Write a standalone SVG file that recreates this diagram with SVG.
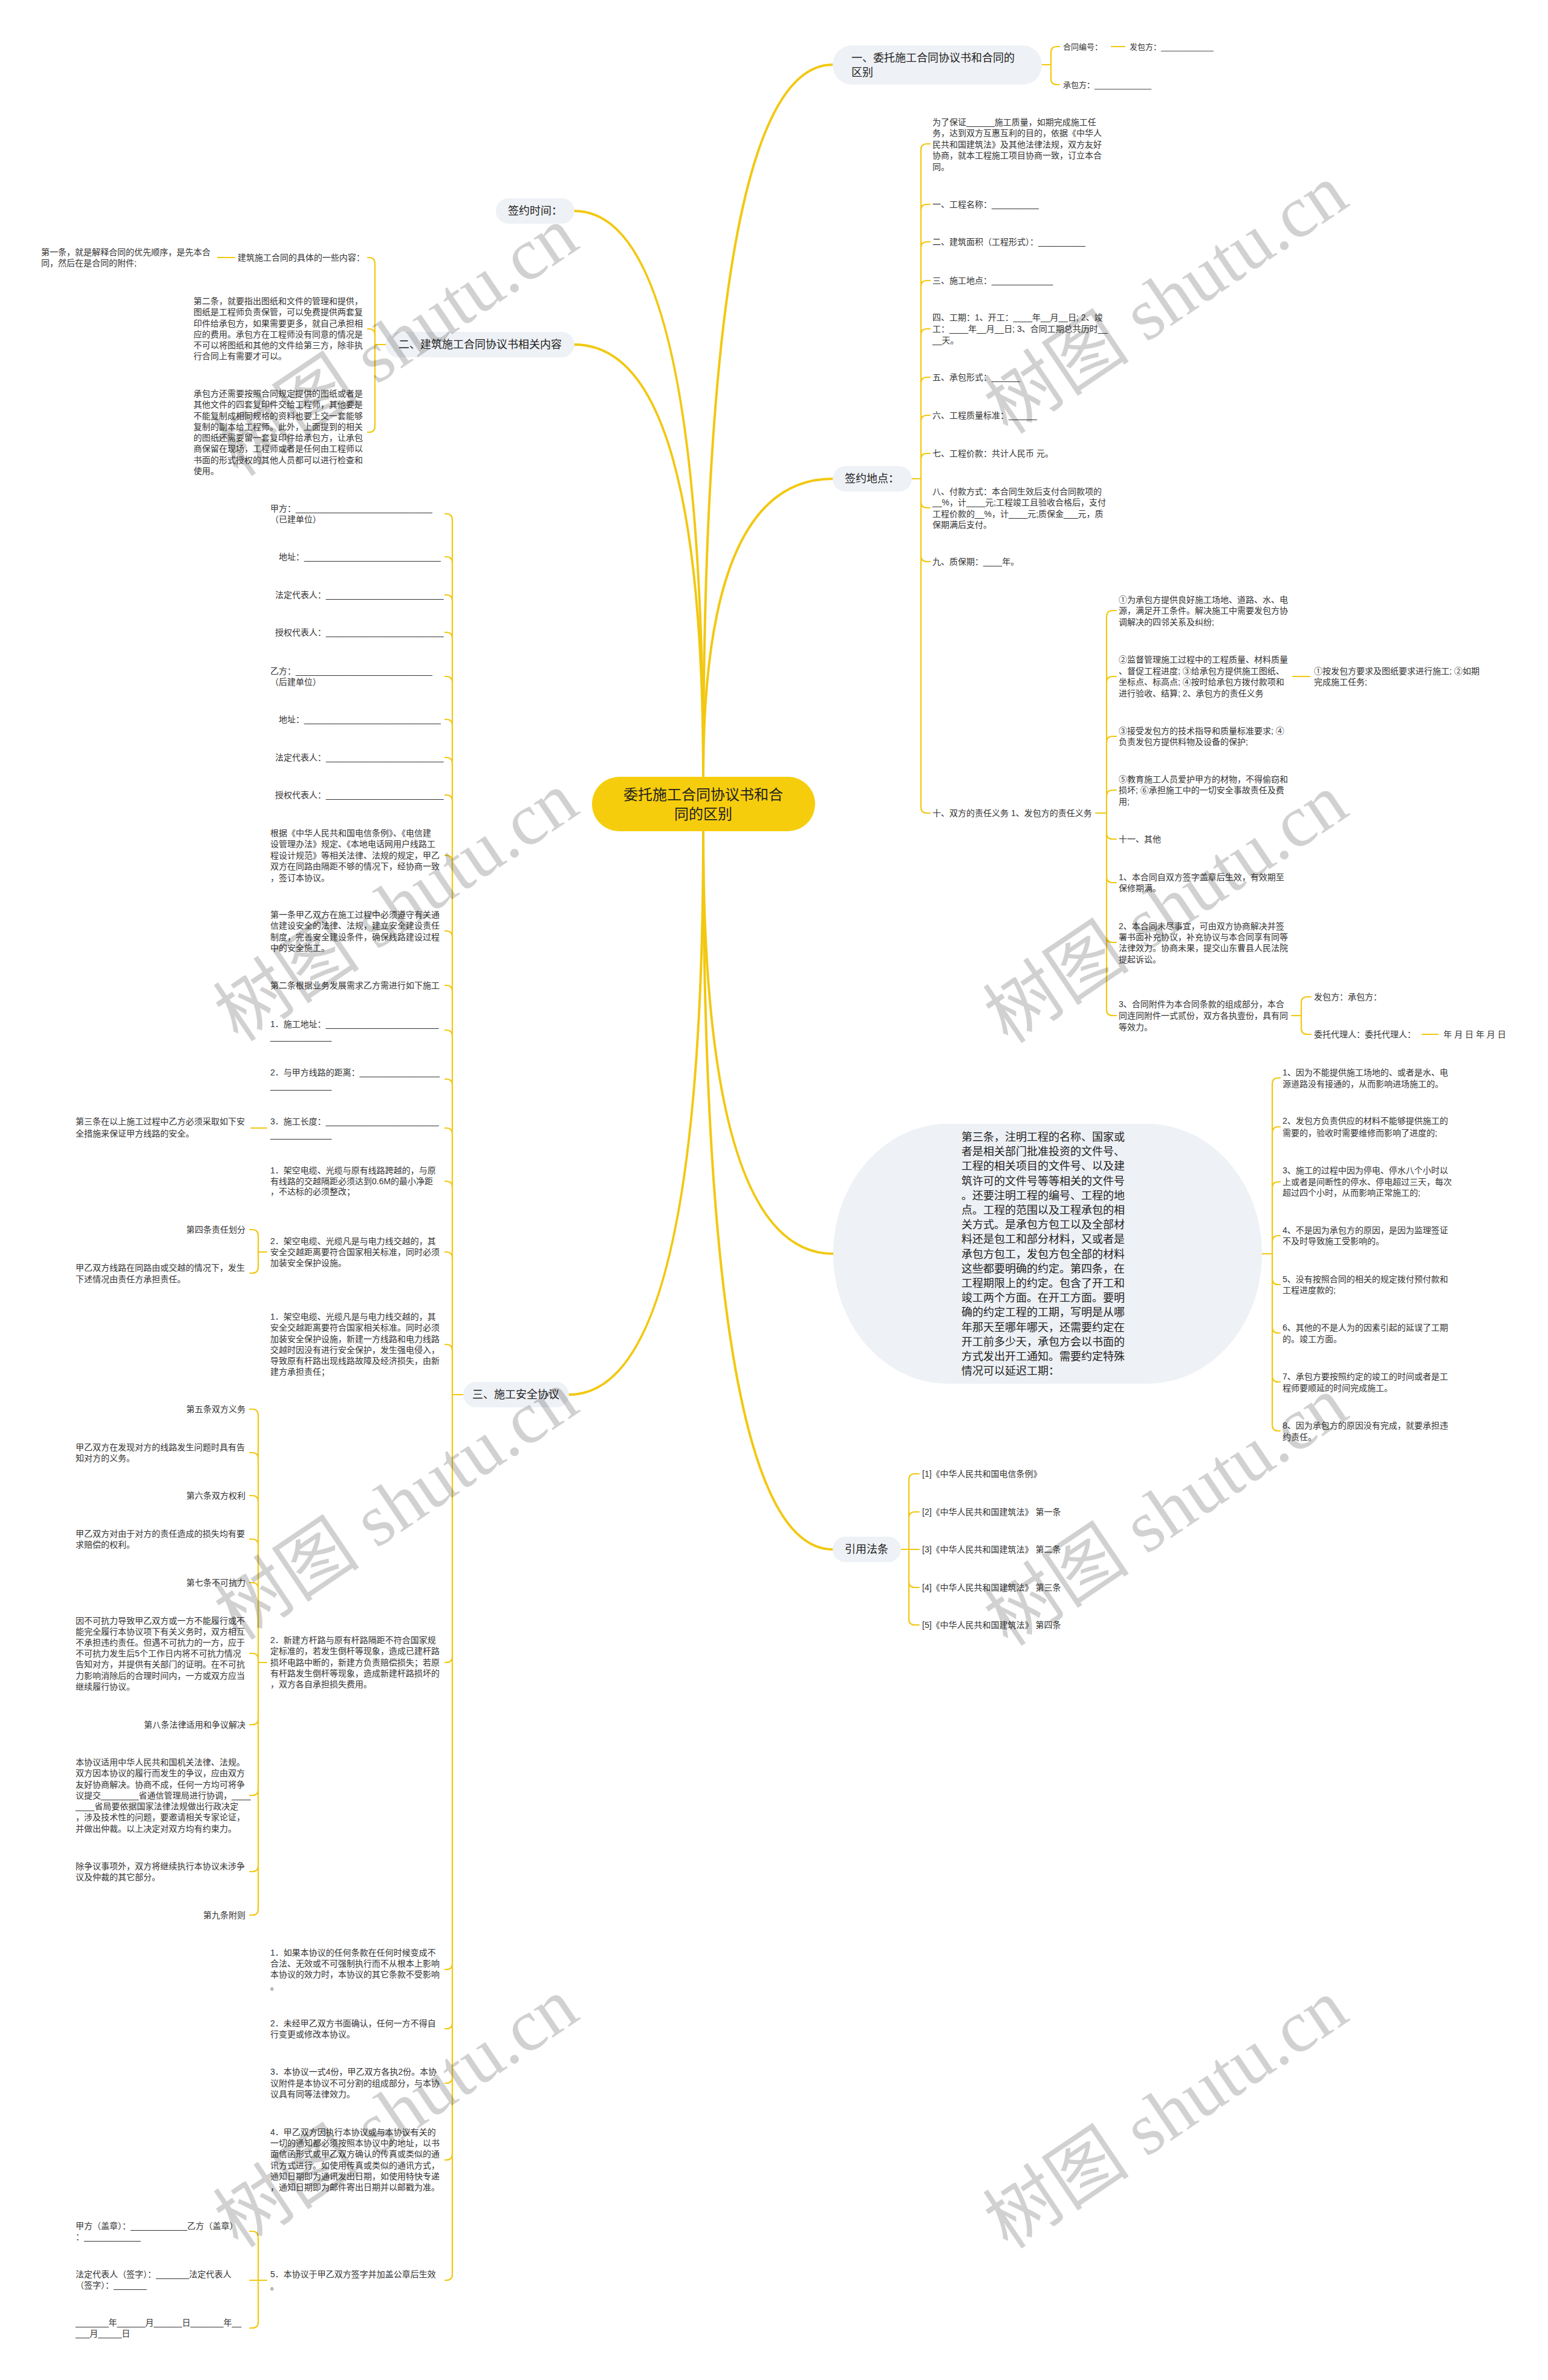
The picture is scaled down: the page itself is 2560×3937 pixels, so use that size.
<svg xmlns="http://www.w3.org/2000/svg" width="2560" height="3937" viewBox="0 0 2560 3937">
<style>
.t{font-family:"Liberation Sans","Noto Sans CJK SC",sans-serif;font-size:14px;fill:#333}
.t,.t tspan,.wm{dominant-baseline:central}
.s13{font-size:13px}
.l1{font-size:18px;fill:#222}
.ctr{font-size:24px;fill:#222}
.e{text-anchor:end}
.m{text-anchor:middle}
.cn{fill:none;stroke:#F2C811;stroke-width:2.2;stroke-linecap:round;stroke-linejoin:round}
.mc{fill:none;stroke:#F2C811;stroke-width:4;stroke-linecap:round}
.nb{fill:#EEF1F5}
.wm{font-family:"Liberation Serif","Noto Sans CJK SC",serif;font-size:122px;fill:#000;fill-opacity:0.18;text-anchor:middle}
</style>
<rect width="2560" height="3937" fill="#fff"/>
<g id="connectors">
<path class="mc" d="M1163 1285 Q1163 107 1377 107"/>
<path class="mc" d="M1163 1285 Q1163 792 1377 792"/>
<path class="mc" d="M1163 1285 Q1163 349 950 349"/>
<path class="mc" d="M1163 1285 Q1163 570 950 570"/>
<path class="mc" d="M1163 1375 Q1163 2074 1378 2074"/>
<path class="mc" d="M1163 1375 Q1163 2563 1377 2563"/>
<path class="mc" d="M1163 1375 Q1163 2307 941 2307"/>
<path class="cn" d="M1723 107 H1738 V87 Q1738 77 1748 77 H1752 M1723 107 H1738 V130 Q1738 140 1748 140 H1752"/>
<path class="cn" stroke-width="3" d="M1838 77 H1860"/>
<path class="cn" d="M1508 792 H1523 V248 Q1523 238 1533 238 H1538 M1523 792 V348 Q1523 338 1533 338 H1538 M1523 792 V410 Q1523 400 1533 400 H1538 M1523 792 V474 Q1523 464 1533 464 H1538 M1523 792 V554 Q1523 544 1533 544 H1538 M1523 792 V634 Q1523 624 1533 624 H1538 M1523 792 V697 Q1523 687 1533 687 H1538 M1523 792 V760 Q1523 750 1533 750 H1538 M1523 792 V830 Q1523 840 1533 840 H1538 M1523 792 V919 Q1523 929 1533 929 H1538 M1523 792 V1335 Q1523 1345 1533 1345 H1538"/>
<path class="cn" d="M1812 1345 H1830 V1020 Q1830 1010 1840 1010 H1846 M1830 1345 V1129 Q1830 1119 1840 1119 H1846 M1830 1345 V1228 Q1830 1218 1840 1218 H1846 M1830 1345 V1317 Q1830 1307 1840 1307 H1846 M1830 1345 V1378 Q1830 1388 1840 1388 H1846 M1830 1345 V1450 Q1830 1460 1840 1460 H1846 M1830 1345 V1549 Q1830 1559 1840 1559 H1846 M1830 1345 V1670 Q1830 1680 1840 1680 H1846"/>
<path class="cn" stroke-width="3" d="M2138 1119 H2166"/>
<path class="cn" d="M2136 1680 H2152 V1659 Q2152 1649 2162 1649 H2168 M2152 1680 V1701 Q2152 1711 2162 1711 H2168"/>
<path class="cn" stroke-width="3" d="M2352 1711 H2378"/>
<path class="cn" d="M2087 2074 H2104 V1793 Q2104 1783 2114 1783 H2117 M2104 2074 V1874 Q2104 1864 2114 1864 H2117 M2104 2074 V1965 Q2104 1955 2114 1955 H2117 M2104 2074 V2054 Q2104 2044 2114 2044 H2117 M2104 2074 V2115 Q2104 2125 2114 2125 H2117 M2104 2074 V2195 Q2104 2205 2114 2205 H2117 M2104 2074 V2276 Q2104 2286 2114 2286 H2117 M2104 2074 V2357 Q2104 2367 2114 2367 H2117"/>
<path class="cn" d="M1490 2563 H1503 V2448 Q1503 2438 1513 2438 H1520 M1503 2563 V2511 Q1503 2501 1513 2501 H1520 M1490 2563 H1520 M1503 2563 V2616 Q1503 2626 1513 2626 H1520 M1503 2563 V2678 Q1503 2688 1513 2688 H1520"/>
<path class="cn" d="M638 570 H620 V436 Q620 426 610 426 H608 M620 570 V554 Q620 544 610 544 H608 M620 570 V705 Q620 715 610 715 H608"/>
<path class="cn" stroke-width="3" d="M388 426 H360"/>
<path class="cn" d="M766 2307 H748 V860 Q748 850 738 850 H736 M748 2307 V931 Q748 921 738 921 H736 M748 2307 V994 Q748 984 738 984 H736 M748 2307 V1056 Q748 1046 738 1046 H736 M748 2307 V1129 Q748 1119 738 1119 H736 M748 2307 V1200 Q748 1190 738 1190 H736 M748 2307 V1263 Q748 1253 738 1253 H736 M748 2307 V1325 Q748 1315 738 1315 H736 M748 2307 V1425 Q748 1415 738 1415 H736 M748 2307 V1550 Q748 1540 738 1540 H736 M748 2307 V1640 Q748 1630 738 1630 H736 M748 2307 V1714 Q748 1704 738 1704 H736 M748 2307 V1795 Q748 1785 738 1785 H736 M748 2307 V1876 Q748 1866 738 1866 H736 M748 2307 V1964 Q748 1954 738 1954 H736 M748 2307 V2081 Q748 2071 738 2071 H736 M748 2307 V2234 Q748 2224 738 2224 H736 M748 2307 V2740 Q748 2750 738 2750 H736 M748 2307 V3248 Q748 3258 738 3258 H736 M748 2307 V3346 Q748 3356 738 3356 H736 M748 2307 V3436 Q748 3446 738 3446 H736 M748 2307 V3563 Q748 3573 738 3573 H736 M748 2307 V3762 Q748 3772 738 3772 H736"/>
<path class="cn" stroke-width="3" d="M441 1866 H415"/>
<path class="cn" d="M441 2071 H427 V2044 Q427 2034 417 2034 H413 M427 2071 V2096 Q427 2106 417 2106 H413"/>
<path class="cn" d="M441 2750 H427 V2341 Q427 2331 417 2331 H413 M427 2750 V2413 Q427 2403 417 2403 H413 M427 2750 V2484 Q427 2474 417 2474 H413 M427 2750 V2556 Q427 2546 417 2546 H413 M427 2750 V2628 Q427 2618 417 2618 H413 M427 2750 V2745 Q427 2735 417 2735 H413 M427 2750 V2843 Q427 2853 417 2853 H413 M427 2750 V2960 Q427 2970 417 2970 H413 M427 2750 V3086 Q427 3096 417 3096 H413 M427 2750 V3158 Q427 3168 417 3168 H413"/>
<path class="cn" d="M441 3772 H427 V3701 Q427 3691 417 3691 H413 M427 3772 H413 M427 3772 V3841 Q427 3851 417 3851 H413"/>
</g>
<g id="n-center">
<rect x="979" y="1285" width="369" height="90" rx="45" fill="#F6CD0C"/>
<text class="t ctr m"><tspan x="1163" y="1314">委托施工合同协议书和合</tspan><tspan x="1163" y="1346">同的区别</tspan></text>
</g>
<g id="n-b1">
<rect class="nb" x="1377" y="75" width="346" height="65" rx="32"/>
<text class="t l1"><tspan x="1408" y="96">一、委托施工合同协议书和合同的</tspan><tspan x="1408" y="120">区别</tspan></text>
</g>
<g id="n-b1-c">
<text class="t s13" x="1758" y="77">合同编号：</text>
<text class="t s13" x="1868" y="77">发包方：____________</text>
<text class="t s13" x="1758" y="140">承包方：_____________</text>
</g>
<g id="n-b2">
<rect class="nb" x="1377" y="771" width="131" height="42" rx="21"/>
<text class="t l1 m" x="1442" y="792">签约地点：</text>
</g>
<g id="n-b2-c">
<text class="t"><tspan x="1542" y="202">为了保证______施工质量，如期完成施工任</tspan><tspan x="1542" y="220">务，达到双方互惠互利的目的，依据《中华人</tspan><tspan x="1542" y="239">民共和国建筑法》及其他法律法规，双方友好</tspan><tspan x="1542" y="257">协商，就本工程施工项目协商一致，订立本合</tspan><tspan x="1542" y="276">同。</tspan></text>
<text class="t" x="1542" y="338">一、工程名称：__________</text>
<text class="t" x="1542" y="400">二、建筑面积（工程形式）：__________</text>
<text class="t" x="1542" y="464">三、施工地点：_____________</text>
<text class="t"><tspan x="1542" y="525">四、工期：1、开工：____年__月__日; 2、竣</tspan><tspan x="1542" y="544">工：____年__月__日; 3、合同工期总共历时__</tspan><tspan x="1542" y="563">__天。</tspan></text>
<text class="t" x="1542" y="624">五、承包形式：______</text>
<text class="t" x="1542" y="687">六、工程质量标准：______</text>
<text class="t" x="1542" y="750">七、工程价款：共计人民币 元。</text>
<text class="t"><tspan x="1542" y="813">八、付款方式：本合同生效后支付合同款项的</tspan><tspan x="1542" y="831">__%，计____元;工程竣工且验收合格后，支付</tspan><tspan x="1542" y="850">工程价款的__%，计____元;质保金___元，质</tspan><tspan x="1542" y="868">保期满后支付。</tspan></text>
<text class="t" x="1542" y="929">九、质保期：____年。</text>
<text class="t" x="1542" y="1345">十、双方的责任义务 1、发包方的责任义务</text>
</g>
<g id="n-b2-c10">
<text class="t"><tspan x="1850" y="992">①为承包方提供良好施工场地、道路、水、电</tspan><tspan x="1850" y="1010">源，满足开工条件。解决施工中需要发包方协</tspan><tspan x="1850" y="1029">调解决的四邻关系及纠纷;</tspan></text>
<text class="t"><tspan x="1850" y="1091">②监督管理施工过程中的工程质量、材料质量</tspan><tspan x="1850" y="1110">、督促工程进度; ③给承包方提供施工图纸、</tspan><tspan x="1850" y="1128">坐标点、标高点; ④按时给承包方拨付款项和</tspan><tspan x="1850" y="1147">进行验收、结算; 2、承包方的责任义务</tspan></text>
<text class="t"><tspan x="2173" y="1110">①按发包方要求及图纸要求进行施工; ②如期</tspan><tspan x="2173" y="1128">完成施工任务;</tspan></text>
<text class="t"><tspan x="1850" y="1209">③接受发包方的技术指导和质量标准要求; ④</tspan><tspan x="1850" y="1227">负责发包方提供料物及设备的保护;</tspan></text>
<text class="t"><tspan x="1850" y="1289">⑤教育施工人员爱护甲方的材物，不得偷窃和</tspan><tspan x="1850" y="1307">损坏; ⑥承担施工中的一切安全事故责任及费</tspan><tspan x="1850" y="1326">用;</tspan></text>
<text class="t" x="1850" y="1388">十一、其他</text>
<text class="t"><tspan x="1850" y="1451">1、本合同自双方签字盖章后生效，有效期至</tspan><tspan x="1850" y="1469">保修期满。</tspan></text>
<text class="t"><tspan x="1850" y="1532">2、本合同未尽事宜，可由双方协商解决并签</tspan><tspan x="1850" y="1550">署书面补充协议，补充协议与本合同享有同等</tspan><tspan x="1850" y="1568">法律效力。协商未果，提交山东曹县人民法院</tspan><tspan x="1850" y="1587">提起诉讼。</tspan></text>
<text class="t"><tspan x="1850" y="1661">3、合同附件为本合同条款的组成部分，本合</tspan><tspan x="1850" y="1680">同连同附件一式贰份，双方各执壹份，具有同</tspan><tspan x="1850" y="1699">等效力。</tspan></text>
<text class="t" x="2173" y="1649">发包方：承包方：</text>
<text class="t" x="2173" y="1711">委托代理人：委托代理人：</text>
<text class="t" x="2387" y="1711">年 月 日 年 月 日</text>
</g>
<g id="n-b3">
<rect class="nb" x="1378" y="1859" width="709" height="430" rx="190" ry="215"/>
<text class="t l1"><tspan x="1590" y="1881">第三条，注明工程的名称、国家或</tspan><tspan x="1590" y="1905">者是相关部门批准投资的文件号、</tspan><tspan x="1590" y="1929">工程的相关项目的文件号、以及建</tspan><tspan x="1590" y="1954">筑许可的文件号等等相关的文件号</tspan><tspan x="1590" y="1978">。还要注明工程的编号、工程的地</tspan><tspan x="1590" y="2002">点。工程的范围以及工程承包的相</tspan><tspan x="1590" y="2026">关方式。是承包方包工以及全部材</tspan><tspan x="1590" y="2050">料还是包工和部分材料，又或者是</tspan><tspan x="1590" y="2075">承包方包工，发包方包全部的材料</tspan><tspan x="1590" y="2099">这些都要明确的约定。第四条，在</tspan><tspan x="1590" y="2123">工程期限上的约定。包含了开工和</tspan><tspan x="1590" y="2147">竣工两个方面。在开工方面。要明</tspan><tspan x="1590" y="2171">确的约定工程的工期，写明是从哪</tspan><tspan x="1590" y="2196">年那天至哪年哪天，还需要约定在</tspan><tspan x="1590" y="2220">开工前多少天，承包方会以书面的</tspan><tspan x="1590" y="2244">方式发出开工通知。需要约定特殊</tspan><tspan x="1590" y="2268">情况可以延迟工期：</tspan></text>
</g>
<g id="n-b3-c">
<text class="t"><tspan x="2121" y="1774">1、因为不能提供施工场地的、或者是水、电</tspan><tspan x="2121" y="1793">源道路没有接通的，从而影响进场施工的。</tspan></text>
<text class="t"><tspan x="2121" y="1854">2、发包方负责供应的材料不能够提供施工的</tspan><tspan x="2121" y="1874">需要的，验收时需要维修而影响了进度的;</tspan></text>
<text class="t"><tspan x="2121" y="1936">3、施工的过程中因为停电、停水八个小时以</tspan><tspan x="2121" y="1955">上或者是间断性的停水、停电超过三天，每次</tspan><tspan x="2121" y="1973">超过四个小时，从而影响正常施工的;</tspan></text>
<text class="t"><tspan x="2121" y="2035">4、不是因为承包方的原因，是因为监理签证</tspan><tspan x="2121" y="2053">不及时导致施工受影响的。</tspan></text>
<text class="t"><tspan x="2121" y="2116">5、没有按照合同的相关的规定拨付预付款和</tspan><tspan x="2121" y="2134">工程进度款的;</tspan></text>
<text class="t"><tspan x="2121" y="2196">6、其他的不是人为的因素引起的延误了工期</tspan><tspan x="2121" y="2215">的。竣工方面。</tspan></text>
<text class="t"><tspan x="2121" y="2277">7、承包方要按照约定的竣工的时间或者是工</tspan><tspan x="2121" y="2296">程师要顺延的时间完成施工。</tspan></text>
<text class="t"><tspan x="2121" y="2358">8、因为承包方的原因没有完成，就要承担违</tspan><tspan x="2121" y="2377">约责任。</tspan></text>
</g>
<g id="n-b4">
<rect class="nb" x="1377" y="2542" width="113" height="42" rx="21"/>
<text class="t l1 m" x="1433" y="2563">引用法条</text>
</g>
<g id="n-b4-c">
<text class="t" x="1525" y="2438">[1]《中华人民共和国电信条例》</text>
<text class="t" x="1525" y="2501">[2]《中华人民共和国建筑法》 第一条</text>
<text class="t" x="1525" y="2563">[3]《中华人民共和国建筑法》 第二条</text>
<text class="t" x="1525" y="2626">[4]《中华人民共和国建筑法》 第三条</text>
<text class="t" x="1525" y="2688">[5]《中华人民共和国建筑法》 第四条</text>
</g>
<g id="n-b5">
<rect class="nb" x="820" y="328" width="130" height="42" rx="21"/>
<text class="t l1 m" x="885" y="349">签约时间：</text>
</g>
<g id="n-b6">
<rect class="nb" x="638" y="549" width="312" height="42" rx="21"/>
<text class="t l1 m" x="794" y="570">二、建筑施工合同协议书相关内容</text>
</g>
<g id="n-b6-c">
<text class="t e" x="603" y="426">建筑施工合同的具体的一些内容：</text>
<text class="t"><tspan x="68" y="417">第一条，就是解释合同的优先顺序，是先本合</tspan><tspan x="68" y="435">同，然后在是合同的附件;</tspan></text>
<text class="t"><tspan x="320" y="498">第二条，就要指出图纸和文件的管理和提供，</tspan><tspan x="320" y="516">图纸是工程师负责保管，可以免费提供两套复</tspan><tspan x="320" y="535">印件给承包方，如果需要更多，就自己承担相</tspan><tspan x="320" y="553">应的费用。承包方在工程师没有同意的情况是</tspan><tspan x="320" y="571">不可以将图纸和其他的文件给第三方，除非执</tspan><tspan x="320" y="589">行合同上有需要才可以。</tspan></text>
<text class="t"><tspan x="320" y="651">承包方还需要按照合同规定提供的图纸或者是</tspan><tspan x="320" y="669">其他文件的四套复印件交给工程师，其他要是</tspan><tspan x="320" y="688">不能复制成相同规格的资料也要上交一套能够</tspan><tspan x="320" y="706">复制的副本给工程师。此外，上面提到的相关</tspan><tspan x="320" y="724">的图纸还需要留一套复印件给承包方，让承包</tspan><tspan x="320" y="742">商保留在现场，工程师或者是任何由工程师以</tspan><tspan x="320" y="761">书面的形式授权的其他人员都可以进行检查和</tspan><tspan x="320" y="779">使用。</tspan></text>
</g>
<g id="n-b7">
<rect class="nb" x="766" y="2286" width="175" height="42" rx="21"/>
<text class="t l1 m" x="853" y="2307">三、施工安全协议</text>
</g>
<g id="n-b7-c">
<text class="t"><tspan x="447" y="841">甲方：_____________________________</tspan><tspan x="447" y="859">（已建单位）</tspan></text>
<text class="t" x="461" y="921">地址：_____________________________</text>
<text class="t" x="455" y="984">法定代表人：_________________________</text>
<text class="t" x="455" y="1046">授权代表人：_________________________</text>
<text class="t"><tspan x="447" y="1110">乙方：_____________________________</tspan><tspan x="447" y="1128">（后建单位）</tspan></text>
<text class="t" x="461" y="1190">地址：_____________________________</text>
<text class="t" x="455" y="1253">法定代表人：_________________________</text>
<text class="t" x="455" y="1315">授权代表人：_________________________</text>
<text class="t"><tspan x="447" y="1378">根据《中华人民共和国电信条例》、《电信建</tspan><tspan x="447" y="1396">设管理办法》规定、《本地电话网用户线路工</tspan><tspan x="447" y="1415">程设计规范》等相关法律、法规的规定，甲乙</tspan><tspan x="447" y="1433">双方在同路由隔距不够的情况下，经协商一致</tspan><tspan x="447" y="1452">，签订本协议。</tspan></text>
<text class="t"><tspan x="447" y="1513">第一条甲乙双方在施工过程中必须遵守有关通</tspan><tspan x="447" y="1531">信建设安全的法律、法规，建立安全建设责任</tspan><tspan x="447" y="1550">制度，完善安全建设条件，确保线路建设过程</tspan><tspan x="447" y="1568">中的安全施工。</tspan></text>
<text class="t" x="447" y="1630">第二条根据业务发展需求乙方需进行如下施工</text>
<text class="t"><tspan x="447" y="1694">1．施工地址：________________________</tspan><tspan x="447" y="1715">_____________</tspan></text>
<text class="t"><tspan x="447" y="1774">2．与甲方线路的距离：_________________</tspan><tspan x="447" y="1796">_____________</tspan></text>
<text class="t"><tspan x="447" y="1855">3．施工长度：________________________</tspan><tspan x="447" y="1877">_____________</tspan></text>
<text class="t"><tspan x="447" y="1936">1．架空电缆、光缆与原有线路跨越的，与原</tspan><tspan x="447" y="1954">有线路的交越隔距必须达到0.6M的最小净距</tspan><tspan x="447" y="1971">，不达标的必须整改；</tspan></text>
<text class="t"><tspan x="447" y="2053">2．架空电缆、光缆凡是与电力线交越的，其</tspan><tspan x="447" y="2071">安全交越距离要符合国家相关标准，同时必须</tspan><tspan x="447" y="2089">加装安全保护设施。</tspan></text>
<text class="t"><tspan x="447" y="2178">1．架空电缆、光缆凡是与电力线交越的，其</tspan><tspan x="447" y="2196">安全交越距离要符合国家相关标准。同时必须</tspan><tspan x="447" y="2215">加装安全保护设施，新建一方线路和电力线路</tspan><tspan x="447" y="2233">交越时因没有进行安全保护，发生强电侵入，</tspan><tspan x="447" y="2251">导致原有杆路出现线路故障及经济损失，由新</tspan><tspan x="447" y="2269">建方承担责任；</tspan></text>
<text class="t"><tspan x="447" y="2713">2．新建方杆路与原有杆路隔距不符合国家规</tspan><tspan x="447" y="2731">定标准的，若发生倒杆等现象，造成已建杆路</tspan><tspan x="447" y="2750">损坏电路中断的，新建方负责赔偿损失；若原</tspan><tspan x="447" y="2768">有杆路发生倒杆等现象，造成新建杆路损坏的</tspan><tspan x="447" y="2786">，双方各自承担损失费用。</tspan></text>
<text class="t"><tspan x="447" y="3230">1．如果本协议的任何条款在任何时候变成不</tspan><tspan x="447" y="3248">合法、无效或不可强制执行而不从根本上影响</tspan><tspan x="447" y="3266">本协议的效力时，本协议的其它条款不受影响</tspan><tspan x="447" y="3286">。</tspan></text>
<text class="t"><tspan x="447" y="3347">2．未经甲乙双方书面确认，任何一方不得自</tspan><tspan x="447" y="3365">行变更或修改本协议。</tspan></text>
<text class="t"><tspan x="447" y="3427">3．本协议一式4份，甲乙双方各执2份。本协</tspan><tspan x="447" y="3446">议附件是本协议不可分割的组成部分，与本协</tspan><tspan x="447" y="3464">议具有同等法律效力。</tspan></text>
<text class="t"><tspan x="447" y="3527">4．甲乙双方因执行本协议或与本协议有关的</tspan><tspan x="447" y="3545">一切的通知都必须按照本协议中的地址，以书</tspan><tspan x="447" y="3563">面信函形式或甲乙双方确认的传真或类似的通</tspan><tspan x="447" y="3582">讯方式进行。如使用传真或类似的通讯方式，</tspan><tspan x="447" y="3600">通知日期即为通讯发出日期，如使用特快专递</tspan><tspan x="447" y="3618">，通知日期即为邮件寄出日期并以邮戳为准。</tspan></text>
<text class="t"><tspan x="447" y="3762">5．本协议于甲乙双方签字并加盖公章后生效</tspan><tspan x="447" y="3782">。</tspan></text>
</g>
<g id="n-b7-cc">
<text class="t"><tspan x="125" y="1855">第三条在以上施工过程中乙方必须采取如下安</tspan><tspan x="125" y="1875">全措施来保证甲方线路的安全。</tspan></text>
<text class="t e" x="406" y="2034">第四条责任划分</text>
<text class="t"><tspan x="125" y="2097">甲乙双方线路在同路由或交越的情况下，发生</tspan><tspan x="125" y="2116">下述情况由责任方承担责任。</tspan></text>
<text class="t e" x="406" y="2331">第五条双方义务</text>
<text class="t"><tspan x="125" y="2394">甲乙双方在发现对方的线路发生问题时具有告</tspan><tspan x="125" y="2412">知对方的义务。</tspan></text>
<text class="t e" x="406" y="2474">第六条双方权利</text>
<text class="t"><tspan x="125" y="2537">甲乙双方对由于对方的责任造成的损失均有要</tspan><tspan x="125" y="2555">求赔偿的权利。</tspan></text>
<text class="t e" x="406" y="2618">第七条不可抗力</text>
<text class="t"><tspan x="125" y="2681">因不可抗力导致甲乙双方或一方不能履行或不</tspan><tspan x="125" y="2699">能完全履行本协议项下有关义务时，双方相互</tspan><tspan x="125" y="2717">不承担违约责任。但遇不可抗力的一方，应于</tspan><tspan x="125" y="2735">不可抗力发生后5个工作日内将不可抗力情况</tspan><tspan x="125" y="2753">告知对方，并提供有关部门的证明。在不可抗</tspan><tspan x="125" y="2772">力影响消除后的合理时间内，一方或双方应当</tspan><tspan x="125" y="2790">继续履行协议。</tspan></text>
<text class="t e" x="406" y="2853">第八条法律适用和争议解决</text>
<text class="t"><tspan x="125" y="2915">本协议适用中华人民共和国机关法律、法规。</tspan><tspan x="125" y="2933">双方因本协议的履行而发生的争议，应由双方</tspan><tspan x="125" y="2952">友好协商解决。协商不成，任何一方均可将争</tspan><tspan x="125" y="2970">议提交________省通信管理局进行协调，____</tspan><tspan x="125" y="2988">____省局要依据国家法律法规做出行政决定</tspan><tspan x="125" y="3006">，涉及技术性的问题，要邀请相关专家论证，</tspan><tspan x="125" y="3025">并做出仲裁。以上决定对双方均有约束力。</tspan></text>
<text class="t"><tspan x="125" y="3087">除争议事项外，双方将继续执行本协议未涉争</tspan><tspan x="125" y="3105">议及仲裁的其它部分。</tspan></text>
<text class="t e" x="406" y="3168">第九条附则</text>
<text class="t"><tspan x="125" y="3682">甲方（盖章）：____________乙方（盖章）</tspan><tspan x="125" y="3700">：____________</tspan></text>
<text class="t"><tspan x="125" y="3762">法定代表人（签字）：_______法定代表人</tspan><tspan x="125" y="3780">（签字）：_______</tspan></text>
<text class="t"><tspan x="125" y="3842">_______年______月______日_______年__</tspan><tspan x="125" y="3860">___月_____日</tspan></text>
</g>
<g id="watermarks">
<text class="wm" x="655" y="565" transform="rotate(-34 655 565)">树图 shutu.cn</text>
<text class="wm" x="655" y="1500" transform="rotate(-34 655 1500)">树图 shutu.cn</text>
<text class="wm" x="655" y="2490" transform="rotate(-34 655 2490)">树图 shutu.cn</text>
<text class="wm" x="655" y="3495" transform="rotate(-34 655 3495)">树图 shutu.cn</text>
<text class="wm" x="1928" y="495" transform="rotate(-34 1928 495)">树图 shutu.cn</text>
<text class="wm" x="1928" y="1503" transform="rotate(-34 1928 1503)">树图 shutu.cn</text>
<text class="wm" x="1928" y="2500" transform="rotate(-34 1928 2500)">树图 shutu.cn</text>
<text class="wm" x="1928" y="3497" transform="rotate(-34 1928 3497)">树图 shutu.cn</text>
</g>
</svg>
